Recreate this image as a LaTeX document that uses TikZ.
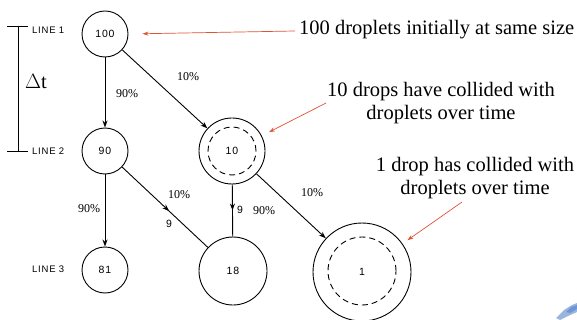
\documentclass[tikz,border=0pt]{standalone}
\usepackage{fontspec}
\setmainfont{Liberation Serif}
\newfontfamily\lblsans[LetterSpace=8]{Liberation Sans}
\usetikzlibrary{arrows.meta,decorations.markings}
\definecolor{annred}{RGB}{224,82,52}
\definecolor{smudge}{RGB}{110,150,210}
\tikzset{
  drop/.style={circle,draw,line width=0.9pt,inner sep=0pt,font=\lblsans\fontsize{10.5}{10.5}\selectfont},
  inner/.style={circle,draw,dashed,dash pattern=on 6pt off 4pt,line width=0.9pt,inner sep=0pt},
  conn/.style={line width=0.9pt,-{Stealth[length=7pt,width=5pt]}},
  plain/.style={line width=0.9pt},
  midarrow/.style={line width=0.9pt,postaction={decorate},decoration={markings,mark=at position #1 with {\arrow{Stealth[length=7pt,width=5pt]}}}},
  pct/.style={font=\fontsize{12}{12}\selectfont,inner sep=0pt},
  cnt/.style={font=\lblsans\fontsize{10.5}{10.5}\selectfont,inner sep=0pt},
  linelbl/.style={font=\lblsans\fontsize{9.5}{9.5}\selectfont,inner sep=0pt,anchor=west},
  note/.style={font=\fontsize{20.5}{23}\selectfont,inner sep=0pt,align=center},
  redarr/.style={draw=annred,line width=0.7pt,-{Stealth[length=6pt,width=4pt]}}
}
\begin{document}
\begin{tikzpicture}[x=1pt,y=-1pt]
\useasboundingbox (0,0) rectangle (577,320);
% circles
\node[drop,minimum size=46pt] (c100) at (105,34) {100};
\node[drop,minimum size=46pt] (c90) at (105,151) {90};
\node[drop,minimum size=46pt] (c81) at (105,270) {81};
\node[drop,minimum size=66pt] (c10) at (232,151) {10};
\node[inner,minimum size=48pt] (c10in) at (c10) {};
\node[drop,minimum size=68pt] (c18) at (233,271) {18};
\node[drop,minimum size=98pt] (c1) at (362,272) {1};
\node[inner,minimum size=68pt] (c1in) at (362,271) {};
% connectors
\draw[conn] (c100) -- (c90);
\draw[conn] (c100) -- (c10);
\draw[conn] (c90) -- (c81);
\draw[midarrow=0.55] (c90) -- (c18);
\draw[midarrow=0.5] (c10) -- (c18);
\draw[conn] (c10) -- (c1);
% percent labels
\node[pct] (p1) at (127,94) {90\%};
\node[pct] (p2) at (188,77) {10\%};
\node[pct] (p3) at (89,209) {90\%};
\node[pct] (p4) at (179,195) {10\%};
\node[cnt] (n1) at (169,224) {9};
\node[cnt] (n2) at (240,210) {9};
\node[pct] (p5) at (264,211) {90\%};
\node[pct] (p6) at (312,193) {10\%};
% line labels and bracket
\node[linelbl] (l1) at (32,30) {LINE 1};
\node[linelbl] (l2) at (32,151) {LINE 2};
\node[linelbl] (l3) at (32,269) {LINE 3};
\coordinate (bt1) at (7,26.5);
\coordinate (bt2) at (28,26.5);
\coordinate (bb1) at (7,151.5);
\coordinate (bb2) at (28,151.5);
\coordinate (bvt) at (18,26.5);
\coordinate (bvb) at (18,151.5);
\draw[plain] (bt1) -- (bt2);
\draw[plain] (bb1) -- (bb2);
\draw[plain] (bvt) -- (bvb);
\node[note] (dt) at (36,82) {$\Delta$t};
% annotations
\node[note,anchor=base west] (t1) at (299,35) {100 droplets initially at same size};
\node[note,anchor=base] (t2) at (441,120) {10 drops have collided with\\droplets over time};
\node[note,anchor=base] (t3) at (475,195) {1 drop has collided with\\droplets over time};
\coordinate (a1) at (295,31);
\coordinate (a2) at (326,103);
\coordinate (a3) at (462,202);
\draw[redarr,shorten >=14pt] (a1) -- (c100.east);
\draw[redarr,shorten >=8pt] (a2) -- (c10);
\draw[redarr,shorten >=6pt] (a3) -- (c1);
% corner smudge
\fill[smudge!70] (556,318) -- (564,310) -- (572,305) -- (577,303) -- (577,312) -- (568,316) -- (560,320) -- cycle;
\fill[smudge] (566,312) -- (571,307) -- (577,305) -- (577,309) -- (570,313) -- cycle;
\end{tikzpicture}
\end{document}
